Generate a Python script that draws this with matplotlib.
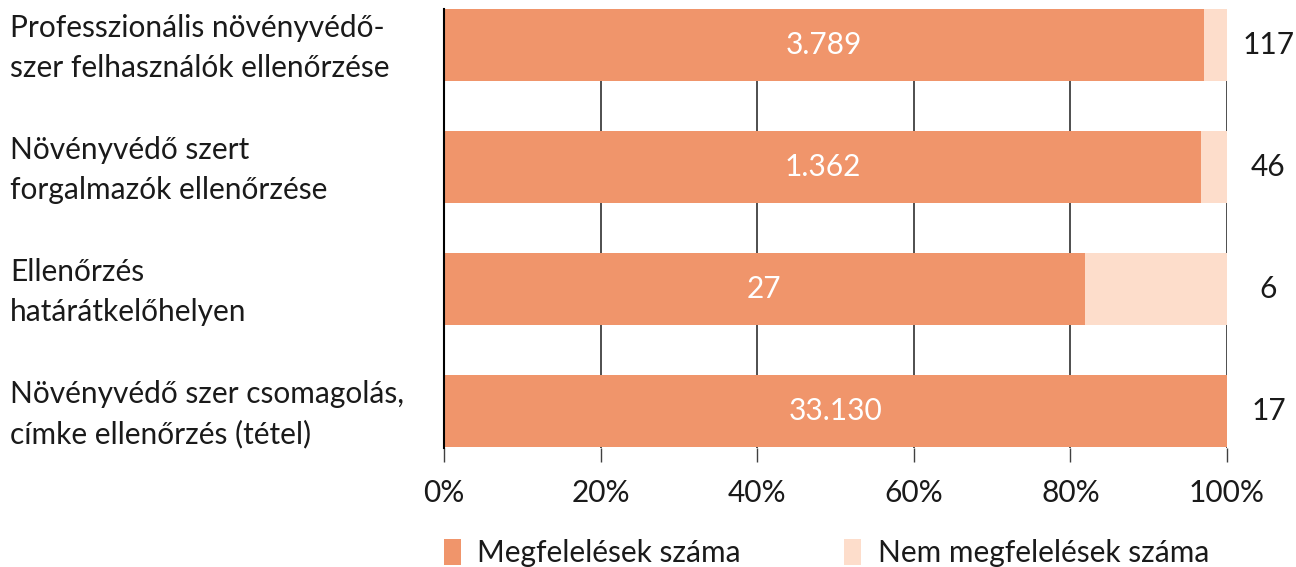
import matplotlib.pyplot as plt
from matplotlib.ticker import FuncFormatter

kategoriak = [
    "Professzionális növényvédő-\nszer felhasználók ellenőrzése",
    "Növényvédő szert\nforgalmazók ellenőrzése",
    "Ellenőrzés\nhatárátkelőhelyen",
    "Növényvédő szer csomagolás,\ncímke ellenőrzés (tétel)",
]
megfelelo = [3789, 1362, 27, 33130]
nem_megfelelo = [117, 46, 6, 17]
megfelelo_cimke = ["3.789", "1.362", "27", "33.130"]
nem_cimke = ["117", "46", "6", "17"]

szin1 = "#F0956B"
szin2 = "#FDDDCB"
betu = 21.5
szoveg = "#1a1a1a"

plt.rcParams['font.family'] = ['Lato', 'DejaVu Sans']

fig = plt.figure(figsize=(12.96, 5.67), dpi=100)
ax = fig.add_axes([444 / 1296, 1 - 448 / 567, 783 / 1296, 439 / 567])

osszes = [a + b for a, b in zip(megfelelo, nem_megfelelo)]
p1 = [a / t for a, t in zip(megfelelo, osszes)]
p2 = [b / t for b, t in zip(nem_megfelelo, osszes)]
y = list(range(len(kategoriak)))

h = 0.59
ax.barh(y, p1, height=h, color=szin1, zorder=2, label="Megfelelések száma")
ax.barh(y, p2, left=p1, height=h, color=szin2, zorder=2, label="Nem megfelelések száma")

for i in y:
    ax.text(p1[i] / 2, i, megfelelo_cimke[i], color="white", ha="center",
            va="center", fontsize=betu)
    ax.text(1.053, i, nem_cimke[i], color=szoveg, ha="center",
            va="center", fontsize=betu)
    ax.text(-434 / 783, i + 0.025, kategoriak[i], color=szoveg, ha="left",
            va="center", fontsize=betu, linespacing=1.5)

ax.set_xlim(0, 1)
ax.set_ylim(3.303, -0.295)
ax.set_xticks([0, 0.2, 0.4, 0.6, 0.8, 1.0])
ax.xaxis.set_major_formatter(FuncFormatter(lambda v, p: f"{v * 100:.0f}%"))
ax.grid(axis="x", color="#404040", linewidth=1.3, zorder=0)
ax.set_axisbelow(True)
ax.set_yticks([])
ax.tick_params(axis="x", length=10, width=1, color="#404040", labelsize=betu,
               labelcolor=szoveg, pad=12)

for s in ["top", "right", "bottom"]:
    ax.spines[s].set_visible(False)
ax.spines["left"].set_color("black")
ax.spines["left"].set_linewidth(1.5)

fig.legend(loc="center left", bbox_to_anchor=(444 / 1296, 1 - 553 / 567), ncol=2,
           frameon=False, borderpad=0, borderaxespad=0,
           handlelength=0.57, handleheight=1.0,
           columnspacing=3.45, handletextpad=0.55, labelcolor=szoveg,
           prop={"size": betu})

fig.savefig("out.png", dpi=100)
